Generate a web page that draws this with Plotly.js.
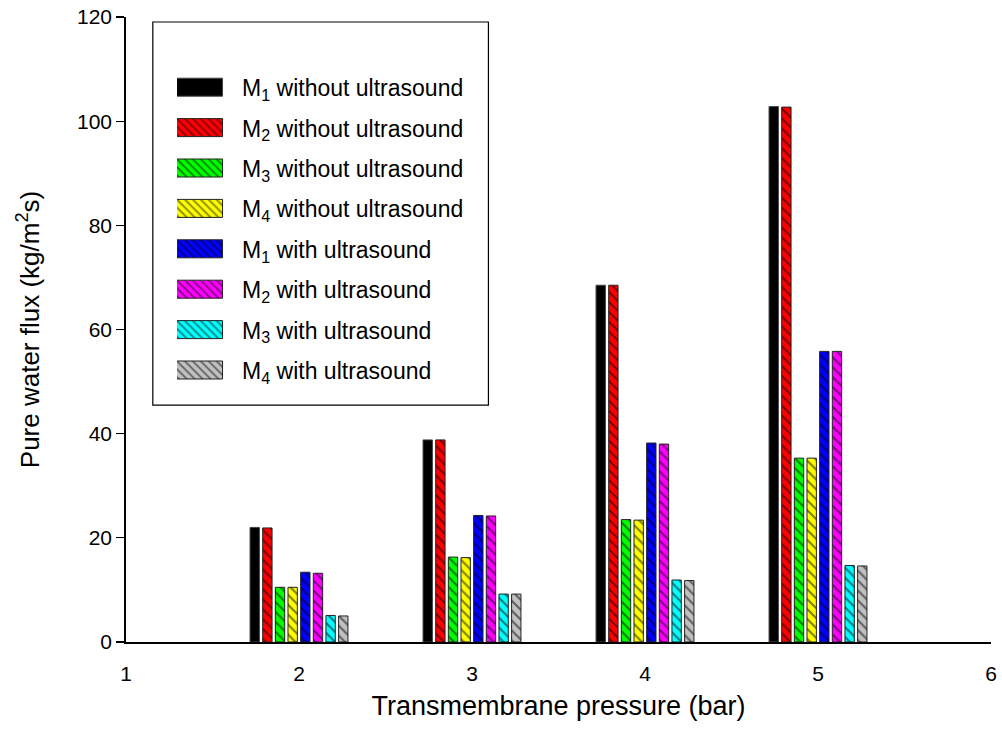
<!DOCTYPE html>
<html>
<head>
<meta charset="utf-8">
<script src="https://cdn.plot.ly/plotly-3.0.1.min.js"></script>
<style>html,body{margin:0;padding:0;background:#fff;}#chart{width:1002px;height:742px;}</style>
</head>
<body>
<div id="chart"></div>
<script>
const pressures = [2, 3, 4, 5];
const seriesNames = [
  "M<sub>1</sub> without ultrasound",
  "M<sub>2</sub> without ultrasound",
  "M<sub>3</sub> without ultrasound",
  "M<sub>4</sub> without ultrasound",
  "M<sub>1</sub> with ultrasound",
  "M<sub>2</sub> with ultrasound",
  "M<sub>3</sub> with ultrasound",
  "M<sub>4</sub> with ultrasound"
];
const m1Without = [22.0, 38.8, 68.5, 102.8];
const m2Without = [21.9, 38.8, 68.5, 102.7];
const m3Without = [10.5, 16.3, 23.5, 35.3];
const m4Without = [10.5, 16.2, 23.4, 35.3];
const m1With = [13.4, 24.3, 38.2, 55.8];
const m2With = [13.2, 24.2, 38.0, 55.8];
const m3With = [5.1, 9.2, 11.9, 14.7];
const m4With = [5.0, 9.2, 11.8, 14.6];
const seriesValues = [m1Without, m2Without, m3Without, m4Without, m1With, m2With, m3With, m4With];
const seriesColors = ["#000000", "#ff0000", "#00ff00", "#ffff00", "#0000ff", "#ff00ff", "#00ffff", "#c0c0c0"];
const xTicks = [1, 2, 3, 4, 5, 6];
const yTicks = [0, 20, 40, 60, 80, 100, 120];

const font = "Liberation Sans, Arial, sans-serif";
const traces = seriesValues.map((vals, i) => {
  const marker = {
    color: seriesColors[i],
    line: {color: i === 0 ? "#444" : "#222", width: 1}
  };
  if (i > 0) {
    marker.pattern = {shape: "\\", fgcolor: "#000000", bgcolor: seriesColors[i], size: 7, solidity: 0.3, fillmode: "overlay"};
  }
  return {
    type: "bar",
    x: pressures,
    y: vals,
    name: seriesNames[i],
    legendgroup: "g" + i,
    marker: marker
  };
});

const layout = {
  width: 1002,
  height: 742,
  margin: {l: 126, r: 11, t: 17, b: 100},
  paper_bgcolor: "#fff",
  plot_bgcolor: "#fff",
  font: {family: font, size: 21, color: "#000"},
  barmode: "group",
  bargap: 0.415,
  bargroupgap: 0.26,
  showlegend: true,
  legend: {
    x: 0.059, y: 0.922, xanchor: "left", yanchor: "top",
    bgcolor: "rgba(0,0,0,0)",
    font: {family: font, size: 23, color: "#000"},
    tracegroupgap: 7.5,
    itemwidth: 55
  },
  shapes: [{
    type: "rect", xref: "paper", yref: "paper",
    x0: 0.031, x1: 0.419, y0: 0.379, y1: 0.992,
    line: {color: "#000", width: 1.2}, fillcolor: "rgba(0,0,0,0)", layer: "below"
  }],
  xaxis: {
    range: [1, 6],
    tickvals: xTicks,
    ticktext: xTicks.map(String),
    ticks: "",
    ticklabelstandoff: 12,
    showgrid: false,
    zeroline: false,
    showline: true,
    linecolor: "#000",
    linewidth: 1.8,
    tickfont: {family: font, size: 21},
    title: {text: "Transmembrane pressure (bar)", font: {family: font, size: 27}, standoff: 12}
  },
  yaxis: {
    range: [0, 120],
    tickvals: yTicks,
    ticks: "outside",
    ticklen: 8,
    tickwidth: 1.2,
    tickcolor: "#000",
    showgrid: false,
    zeroline: false,
    showline: true,
    linecolor: "#000",
    linewidth: 1.8,
    tickfont: {family: font, size: 21},
    title: {text: "Pure water flux (kg/m<sup>2</sup>s)", font: {family: font, size: 26}, standoff: 30}
  }
};

Plotly.newPlot("chart", traces, layout, {displayModeBar: false, staticPlot: true}).then(gd => {
  // widen legend swatches to the wide-rectangle style of the original
  gd.querySelectorAll(".legend .legendpoints path").forEach(p => {
    p.setAttribute("d", "M13,9H-43V-9H13Z");
  });
});
</script>
</body>
</html>
